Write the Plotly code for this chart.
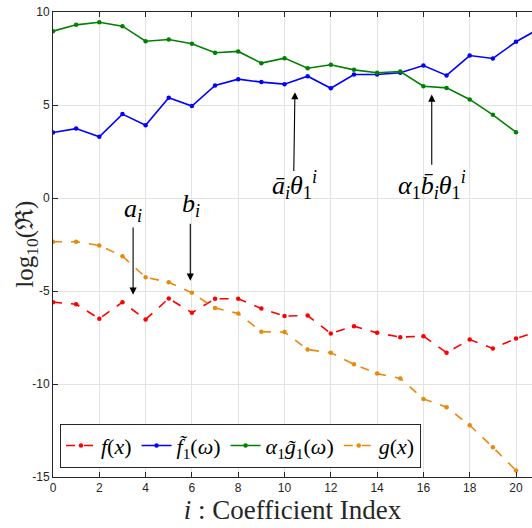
import plotly.graph_objects as go

idx = list(range(21))
idx_ext = list(range(22))

f_x = [-5.60, -5.71, -6.49, -5.60, -6.53, -5.40, -6.17, -5.42, -5.42, -5.94,
       -6.35, -6.32, -7.28, -6.89, -7.25, -7.48, -7.43, -8.32, -7.61, -8.09,
       -7.55, -7.15]
f1_tilde = [3.52, 3.73, 3.29, 4.51, 3.91, 5.39, 4.94, 6.05, 6.39, 6.23,
            6.12, 6.55, 5.90, 6.64, 6.64, 6.73, 7.12, 6.59, 7.66, 7.50,
            8.40, 9.10]
alpha_g1 = [8.97, 9.31, 9.45, 9.24, 8.43, 8.52, 8.29, 7.81, 7.88, 7.25,
            7.52, 6.98, 7.16, 6.89, 6.73, 6.80, 6.01, 5.92, 5.30, 4.47,
            3.54]
g_x = [-2.35, -2.35, -2.55, -3.13, -4.26, -4.53, -5.10, -5.92, -6.21, -7.19,
       -7.21, -8.15, -8.32, -8.94, -9.44, -9.70, -10.80, -11.25, -12.22, -13.40,
       -14.65]

xticks = list(range(0, 21, 2))
yticks = [-15, -10, -5, 0, 5, 10]
yticklabels = ["-15", "-10", "-5", "0", "5", "10"]

MATH = "Liberation Serif, Times New Roman, serif"
TICK = "Liberation Sans, Arial, sans-serif"

fig = go.Figure()
fig.add_trace(go.Scatter(x=idx_ext, y=f_x, mode="lines+markers",
                         name="<i>f</i>(<i>x</i>)",
                         line=dict(color="#FF0000", width=1.6, dash="dash"),
                         marker=dict(size=4.5, color="#FF0000")))
fig.add_trace(go.Scatter(x=idx_ext, y=f1_tilde, mode="lines+markers",
                         name="<i>f\u0303</i><sub>1</sub>(<i>\u03c9</i>)",
                         line=dict(color="#0000FF", width=1.6),
                         marker=dict(size=4.5, color="#0000FF")))
fig.add_trace(go.Scatter(x=idx, y=alpha_g1, mode="lines+markers",
                         name="<i>\u03b1</i><sub>1</sub><i>g\u0303</i><sub>1</sub>(<i>\u03c9</i>)",
                         line=dict(color="#008000", width=1.6),
                         marker=dict(size=4.5, color="#008000")))
fig.add_trace(go.Scatter(x=idx, y=g_x, mode="lines+markers",
                         name="<i>g</i>(<i>x</i>)",
                         line=dict(color="#E8890C", width=1.6, dash="dash"),
                         marker=dict(size=4.5, color="#E8890C")))

# arrows
arrows = [
    (3.46, -5.2, 3.46, -1.5),
    (5.93, -4.45, 5.93, -1.3),
    (10.45, 5.69, 10.40, 1.37),
    (16.36, 5.56, 16.36, 1.71),
]
for (x, y, ax, ay) in arrows:
    fig.add_annotation(x=x, y=y, ax=ax, ay=ay, xref="x", yref="y",
                       axref="x", ayref="y", showarrow=True, arrowhead=2,
                       arrowsize=1.3, arrowwidth=1.1, arrowcolor="black", text="")

labels = [
    (3.46, -0.65, "<i>a<sub>i</sub></i>"),
    (5.96, -0.38, "<i>b<sub>i</sub></i>"),
    (10.45, 0.70, "<i>\u0101<sub>i</sub>\u03b8</i><sub>1</sub><sup><i>i</i></sup>"),
    (16.35, 0.70, "<i>\u03b1</i><sub>1</sub><i>b\u0304<sub>i</sub>\u03b8</i><sub>1</sub><sup><i>i</i></sup>"),
]
for (x, y, t) in labels:
    fig.add_annotation(x=x, y=y, xref="x", yref="y", text=t, showarrow=False,
                       font=dict(family=MATH, size=26, color="black"))

# y-axis label placed like the reference (overlapping the tick label column)
fig.add_annotation(x=-0.056, y=0.50, xref="paper", yref="paper",
                   text="log<sub>10</sub>(\u211c)", showarrow=False, textangle=-90,
                   xanchor="center", yanchor="middle",
                   font=dict(family=MATH, size=25, color="#262626"))

fig.update_layout(
    width=532, height=528,
    margin=dict(l=53, r=0, t=12, b=51),
    plot_bgcolor="white", paper_bgcolor="white",
    showlegend=True,
    legend=dict(orientation="h", x=0.0146, y=0.02, xanchor="left", yanchor="bottom",
                bordercolor="#262626", borderwidth=1, bgcolor="white",
                font=dict(family=MATH, size=22, color="black"),
                itemwidth=30, tracegroupgap=0),
)
fig.update_xaxes(range=[0, 20.69], tickvals=xticks,
                 ticks="inside", ticklen=5, tickcolor="#262626",
                 showline=True, linecolor="#262626", linewidth=1, mirror="ticks",
                 showgrid=True, gridcolor="#E3E3E3", gridwidth=1, zeroline=False,
                 tickfont=dict(family=TICK, size=12, color="#262626"),
                 title=dict(text="<i>i</i> : Coefficient Index",
                            font=dict(family=MATH, size=27, color="#262626"),
                            standoff=2))
fig.update_yaxes(range=[-15, 10], tickvals=yticks, ticktext=yticklabels,
                 ticks="inside", ticklen=5, tickcolor="#262626",
                 showline=True, linecolor="#262626", linewidth=1,
                 showgrid=True, gridcolor="#E3E3E3", gridwidth=1, zeroline=False,
                 tickfont=dict(family=TICK, size=12, color="#262626"))

fig.write_html("out.html")
